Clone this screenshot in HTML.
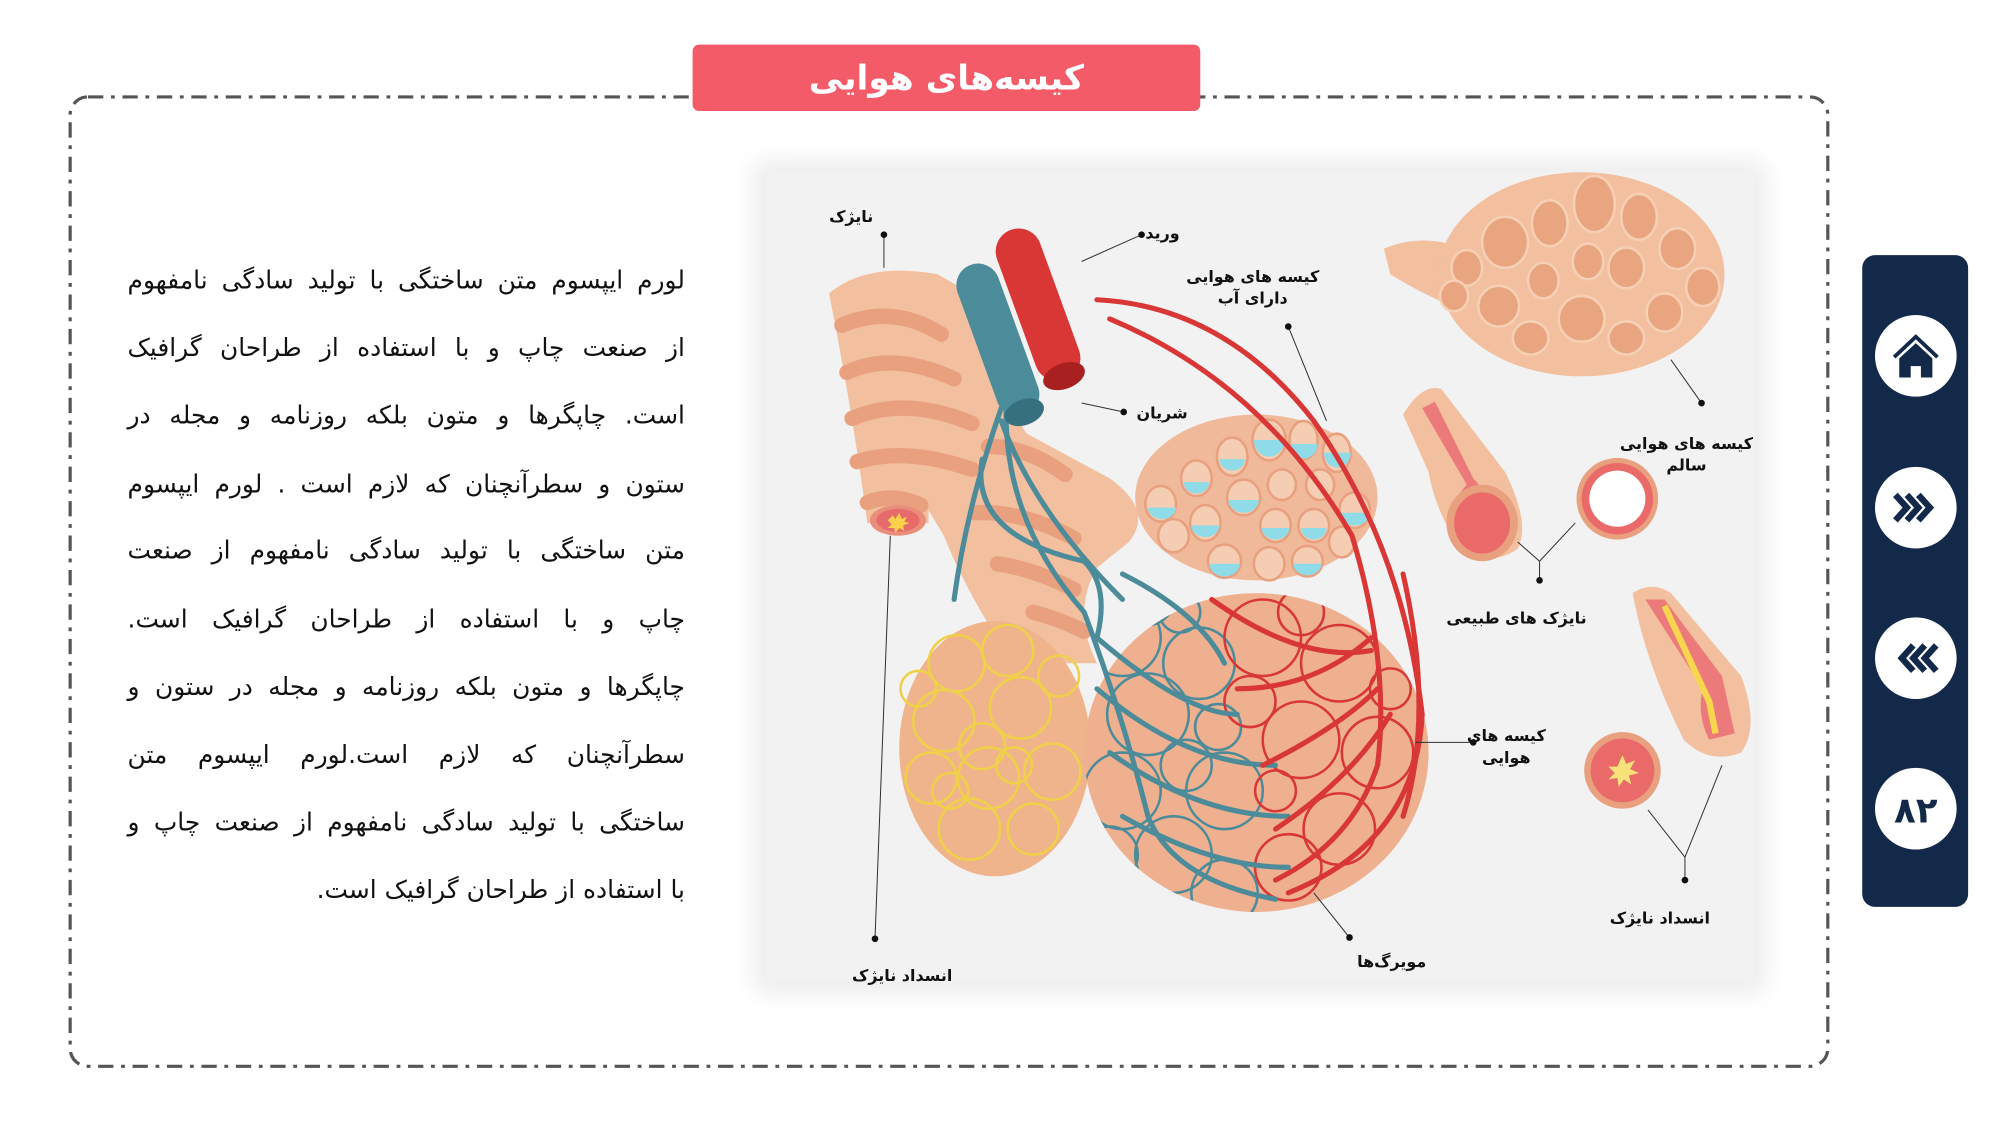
<!DOCTYPE html>
<html><head><meta charset="utf-8">
<style>
html,body{margin:0;padding:0;width:2000px;height:1125px;overflow:hidden;background:#fff}
#s{position:absolute;left:0;top:0;width:1568px;height:882px;transform:scale(1.27551);transform-origin:0 0;font-family:"DejaVu Sans","Noto Sans CJK SC",sans-serif}
.ln{position:absolute;left:100px;width:437px;direction:rtl;text-align:justify;text-align-last:justify;font-size:19.5px;color:#111;white-space:nowrap;line-height:24px}
.lb{position:absolute;direction:rtl;font-size:12.5px;font-weight:bold;color:#111;text-align:center;line-height:17px;white-space:nowrap}
</style></head><body>
<div id="s">
<svg width="1568" height="882" viewBox="0 0 1568 882" style="position:absolute;left:0;top:0">
<defs>
<filter id="bl" x="-10%" y="-10%" width="120%" height="120%"><feGaussianBlur stdDeviation="8"/></filter>
<clipPath id="cl"><ellipse cx="985" cy="590" rx="135" ry="125"/></clipPath>
</defs>
<rect x="55" y="76" width="1378" height="760" rx="14" fill="#fff" stroke="#555" stroke-width="2.5" stroke-dasharray="12 6 3 6"/>
<rect x="543" y="35" width="398" height="52" rx="5" fill="#f45b69"/>
<text x="742" y="70" text-anchor="middle" font-family="DejaVu Sans" font-weight="bold" font-size="27" fill="#fff" direction="rtl">کیسه‌های هوایی</text>
<rect x="590" y="125" width="795" height="655" rx="12" fill="#eeeeee" filter="url(#bl)"/>
<rect x="600" y="135" width="775" height="635" fill="#f2f2f2"/>
<rect x="1460" y="200" width="83" height="511" rx="10" fill="#13294a"/>
<ellipse cx="1502" cy="279" rx="32" ry="32" fill="#fff"/>
<ellipse cx="1502" cy="398" rx="32" ry="32" fill="#fff"/>
<ellipse cx="1502" cy="516" rx="32" ry="32" fill="#fff"/>
<ellipse cx="1502" cy="634" rx="32" ry="32" fill="#fff"/>
<path d="M1485 280 L1502 264 L1519 280" fill="none" stroke="#13294a" stroke-width="3"/>
<path d="M1489 281 L1502 269 L1515 281 V296 H1506 V287 H1498 V296 H1489Z" fill="#13294a"/>
<g fill="none" stroke="#13294a" stroke-width="5"><path d="M1486 388 l9 10 l-9 10 M1495 388 l9 10 l-9 10 M1504 388 l9 10 l-9 10"/>
<path d="M1518 506 l-9 10 l9 10 M1509 506 l-9 10 l9 10 M1500 506 l-9 10 l9 10"/></g>
<text x="1502" y="645" text-anchor="middle" font-size="28" font-weight="bold" fill="#13294a">٨٢</text>
<path d="M1085 195 Q1120 180 1160 200 L1170 250 Q1130 240 1090 215Z" fill="#f2bf9f"/>
<ellipse cx="1240" cy="215" rx="112" ry="80" fill="#f2bf9f"/>
<g fill="#e9a57f" stroke="#f6d0b4" stroke-width="2">
<ellipse cx="1250" cy="160" rx="16" ry="22"/><ellipse cx="1215" cy="175" rx="14" ry="18"/><ellipse cx="1285" cy="170" rx="14" ry="18"/><ellipse cx="1180" cy="190" rx="18" ry="20"/><ellipse cx="1315" cy="195" rx="14" ry="16"/><ellipse cx="1150" cy="210" rx="12" ry="14"/><ellipse cx="1245" cy="205" rx="12" ry="14"/><ellipse cx="1275" cy="210" rx="14" ry="16"/><ellipse cx="1210" cy="220" rx="12" ry="14"/><ellipse cx="1335" cy="225" rx="13" ry="15"/><ellipse cx="1175" cy="240" rx="16" ry="16"/><ellipse cx="1305" cy="245" rx="14" ry="15"/><ellipse cx="1240" cy="250" rx="18" ry="18"/><ellipse cx="1200" cy="265" rx="14" ry="13"/><ellipse cx="1275" cy="265" rx="14" ry="13"/><ellipse cx="1140" cy="232" rx="11" ry="12"/>
</g>
<path d="M650 230 Q680 205 735 215 L770 235 Q790 320 805 340 L870 375 Q905 400 885 425 L860 445 Q840 480 860 520 L795 520 Q760 470 740 420 L728 400 L728 410 L680 410 Q668 320 650 230Z" fill="#f2bf9f"/>
<g stroke="#e8a07f" stroke-width="12" fill="none" stroke-linecap="round">
<path d="M660 255 Q700 238 738 262"/><path d="M664 292 Q700 275 748 297"/><path d="M668 328 Q710 310 762 332"/><path d="M672 362 Q710 350 762 368"/><path d="M680 394 Q700 386 722 396"/><path d="M775 350 Q805 350 835 372"/><path d="M765 402 Q800 400 842 422"/><path d="M782 442 Q810 446 842 462"/><path d="M810 480 Q830 485 850 495"/>
</g>
<ellipse cx="704" cy="408" rx="22" ry="12" fill="#e98e7a"/><ellipse cx="704" cy="408" rx="17" ry="9" fill="#e76b6b"/>
<path d="M696 408 l4-4 l2 3 l3-5 l2 5 l4-2 l-2 4 l4 1 l-5 2 l1 4 l-4-2 l-3 4 l-1-4 l-5 0 l3-3z" fill="#fbd24b"/>
<ellipse cx="780" cy="587" rx="75" ry="100" fill="#efb48c"/>
<g fill="none" stroke="#f0d049" stroke-width="2">
<circle cx="750" cy="520" r="22"/><circle cx="790" cy="510" r="20"/><circle cx="740" cy="565" r="24"/><circle cx="800" cy="555" r="24"/><circle cx="730" cy="610" r="20"/><circle cx="775" cy="610" r="24"/><circle cx="825" cy="605" r="22"/><circle cx="760" cy="650" r="24"/><circle cx="810" cy="650" r="20"/><circle cx="770" cy="585" r="18"/><circle cx="830" cy="530" r="16"/><circle cx="720" cy="540" r="14"/><circle cx="795" cy="600" r="14"/><circle cx="745" cy="620" r="14"/>
</g>
<ellipse cx="985" cy="390" rx="95" ry="65" fill="#f0b99a"/>
<g fill="#f5cdb2" stroke="#e8a07f" stroke-width="2">
<ellipse cx="995" cy="345" rx="13" ry="16"/><ellipse cx="1022" cy="345" rx="11" ry="15"/><ellipse cx="1048" cy="355" rx="11" ry="15"/><ellipse cx="966" cy="358" rx="12" ry="15"/><ellipse cx="938" cy="375" rx="12" ry="14"/><ellipse cx="910" cy="395" rx="12" ry="14"/><ellipse cx="975" cy="390" rx="13" ry="14"/><ellipse cx="1005" cy="380" rx="11" ry="12"/><ellipse cx="1035" cy="380" rx="11" ry="12"/><ellipse cx="1062" cy="400" rx="12" ry="14"/><ellipse cx="945" cy="410" rx="12" ry="14"/><ellipse cx="1000" cy="412" rx="12" ry="13"/><ellipse cx="1030" cy="412" rx="12" ry="13"/><ellipse cx="920" cy="420" rx="12" ry="13"/><ellipse cx="960" cy="440" rx="13" ry="13"/><ellipse cx="995" cy="442" rx="12" ry="13"/><ellipse cx="1025" cy="440" rx="12" ry="12"/><ellipse cx="1052" cy="425" rx="10" ry="12"/>
</g>
<g fill="#8fdbe8">
<path d="M983 345 h24 a12 13 0 0 1 -24 0z"/><path d="M1012 348 h21 a10 11 0 0 1 -21 0z"/><path d="M1038 355 h21 a10 11 0 0 1 -21 0z"/><path d="M900 398 h22 a11 9 0 0 1 -22 0z"/><path d="M963 392 h24 a12 10 0 0 1 -24 0z"/><path d="M1050 402 h24 a12 10 0 0 1 -24 0z"/><path d="M934 412 h22 a11 9 0 0 1 -22 0z"/><path d="M989 414 h22 a11 9 0 0 1 -22 0z"/><path d="M948 442 h24 a12 10 0 0 1 -24 0z"/><path d="M1014 442 h22 a11 9 0 0 1 -22 0z"/><path d="M956 360 h20 a10 9 0 0 1 -20 0z"/><path d="M928 378 h20 a10 9 0 0 1 -20 0z"/><path d="M1020 414 h20 a10 9 0 0 1 -20 0z"/>
</g>
<ellipse cx="985" cy="590" rx="135" ry="125" fill="#eeb08f"/>
<g clip-path="url(#cl)" fill="none" stroke-width="2">
<g stroke="#4c8b9a">
<circle cx="880" cy="500" r="30"/><circle cx="900" cy="560" r="32"/><circle cx="880" cy="620" r="30"/><circle cx="920" cy="670" r="30"/><circle cx="960" cy="620" r="30"/><circle cx="940" cy="520" r="28"/><circle cx="960" cy="700" r="26"/><circle cx="930" cy="600" r="20"/><circle cx="900" cy="470" r="20"/><circle cx="870" cy="670" r="22"/><circle cx="925" cy="480" r="16"/><circle cx="955" cy="570" r="18"/>
</g>
<g stroke="#d93636">
<circle cx="990" cy="500" r="30"/><circle cx="1050" cy="520" r="30"/><circle cx="1020" cy="580" r="30"/><circle cx="1080" cy="590" r="28"/><circle cx="1050" cy="650" r="28"/><circle cx="1010" cy="680" r="26"/><circle cx="980" cy="550" r="20"/><circle cx="1020" cy="480" r="18"/><circle cx="1090" cy="540" r="16"/><circle cx="1000" cy="620" r="16"/>
</g>
</g>
<g fill="none" stroke-linecap="round">
<g stroke="#4c8b9a" stroke-width="4">
<path d="M800 280 Q760 380 748 470"/><path d="M790 300 Q780 400 850 480 Q880 560 900 640 Q920 690 1000 705"/><path d="M785 330 Q810 400 880 470"/><path d="M770 360 Q760 420 850 440 Q870 460 860 500"/><path d="M860 500 Q930 560 970 560"/><path d="M860 540 Q930 600 1000 600"/><path d="M870 590 Q940 640 1010 640"/><path d="M880 640 Q950 680 1010 680"/><path d="M880 450 Q940 480 960 520"/>
</g>
<g stroke="#d93636" stroke-width="4">
<path d="M860 235 Q960 240 1030 330 Q1100 430 1115 560 Q1110 660 1010 700"/><path d="M870 250 Q990 300 1060 420 Q1090 520 1080 600 Q1060 660 1000 690"/><path d="M950 470 Q1020 520 1075 510"/><path d="M970 540 Q1030 540 1075 500"/><path d="M990 600 Q1050 570 1080 540"/><path d="M1000 650 Q1060 610 1090 560"/><path d="M1100 450 Q1125 560 1100 640"/>
</g>
</g>
<g transform="rotate(-20 820 250)">
<rect x="762" y="190" width="34" height="125" rx="17" fill="#4c8b9a"/><ellipse cx="779" cy="313" rx="16" ry="10" fill="#36707e"/>
<rect x="800" y="175" width="36" height="125" rx="18" fill="#d93636"/><ellipse cx="818" cy="297" rx="17" ry="10" fill="#a82020"/>
</g>
<path d="M1100 325 Q1115 300 1130 305 L1180 370 Q1200 410 1190 430 Q1170 445 1145 430 Q1125 400 1120 370Z" fill="#f2bf9f"/>
<path d="M1115 320 L1150 380 Q1135 395 1140 420 L1170 420 Q1170 390 1155 375 L1125 315Z" fill="#ec7a7a"/>
<ellipse cx="1162" cy="410" rx="28" ry="30" fill="#e8a07f"/><ellipse cx="1162" cy="410" rx="22" ry="24" fill="#ea6a6a"/>
<circle cx="1268" cy="391" r="32" fill="#e8a07f"/><circle cx="1268" cy="391" r="28" fill="#ea6a6a"/><circle cx="1268" cy="391" r="22" fill="#fff"/>
<path d="M1280 465 Q1295 455 1310 465 L1365 530 Q1380 570 1365 590 Q1340 600 1320 580 Q1290 520 1280 465Z" fill="#f2bf9f"/>
<path d="M1290 470 L1335 540 Q1330 560 1340 580 L1360 575 L1350 530 L1305 470Z" fill="#ec7a7a"/>
<path d="M1305 475 L1340 550 L1345 575" stroke="#f7d64e" stroke-width="5" fill="none"/>
<ellipse cx="1272" cy="604" rx="30" ry="30" fill="#e8a07f"/><ellipse cx="1272" cy="604" rx="25" ry="25" fill="#ea6a6a"/>
<path d="M1272 592 l3 7 l7-3 l-4 7 l7 3 l-8 2 l2 7 l-6-4 l-4 6 l-1-7 l-7 1 l5-5 l-5-5 l7 0z" fill="#f7e27a"/>
<g stroke="#333" stroke-width="0.8" fill="none">
<path d="M693 184 V210"/><path d="M698 420 L686 736"/><path d="M895 184 L848 205"/><path d="M881 323 L848 316"/><path d="M1010 256 L1040 330"/><path d="M1334 316 L1310 282"/><path d="M1207 455 V440 L1190 425 M1207 440 L1235 410"/><path d="M1110 582 H1155"/><path d="M1058 735 L1030 700"/><path d="M1321 690 V672 L1292 635 M1321 672 L1350 600"/>
</g>
<g fill="#111"><circle cx="693" cy="184" r="2.6"/><circle cx="686" cy="736" r="2.6"/><circle cx="895" cy="184" r="2.6"/><circle cx="881" cy="323" r="2.6"/><circle cx="1010" cy="256" r="2.6"/><circle cx="1334" cy="316" r="2.6"/><circle cx="1207" cy="455" r="2.6"/><circle cx="1155" cy="582" r="2.6"/><circle cx="1058" cy="735" r="2.6"/><circle cx="1321" cy="690" r="2.6"/></g>
</svg>
<div class="lb" style="left:650px;top:161px">نایژک</div>
<div class="lb" style="left:898px;top:174px">ورید</div>
<div class="lb" style="left:930px;top:208px">کیسه های هوایی<br>دارای آب</div>
<div class="lb" style="left:891px;top:315px">شریان</div>
<div class="lb" style="left:1270px;top:339px">کیسه های هوایی<br>سالم</div>
<div class="lb" style="left:1134px;top:476px">نایژک های طبیعی</div>
<div class="lb" style="left:1150px;top:568px">کیسه های<br>هوایی</div>
<div class="lb" style="left:1262px;top:711px">انسداد نایژک</div>
<div class="lb" style="left:668px;top:756px">انسداد نایژک</div>
<div class="lb" style="left:1064px;top:745px">مویرگ‌ها</div>
<div class="ln" style="top:208px">لورم ایپسوم متن ساختگی با تولید سادگی نامفهوم</div>
<div class="ln" style="top:261px">از صنعت چاپ و با استفاده از طراحان گرافیک</div>
<div class="ln" style="top:314px">است. چاپگرها و متون بلکه روزنامه و مجله در</div>
<div class="ln" style="top:368px">ستون و سطرآنچنان که لازم است . لورم ایپسوم</div>
<div class="ln" style="top:420px">متن ساختگی با تولید سادگی نامفهوم از صنعت</div>
<div class="ln" style="top:474px">چاپ و با استفاده از طراحان گرافیک است.</div>
<div class="ln" style="top:527px">چاپگرها و متون بلکه روزنامه و مجله در ستون و</div>
<div class="ln" style="top:580px">سطرآنچنان که لازم است.لورم ایپسوم متن</div>
<div class="ln" style="top:633px">ساختگی با تولید سادگی نامفهوم از صنعت چاپ و</div>
<div class="ln" style="top:686px;text-align-last:right">با استفاده از طراحان گرافیک است.</div>
</div>
</body></html>
